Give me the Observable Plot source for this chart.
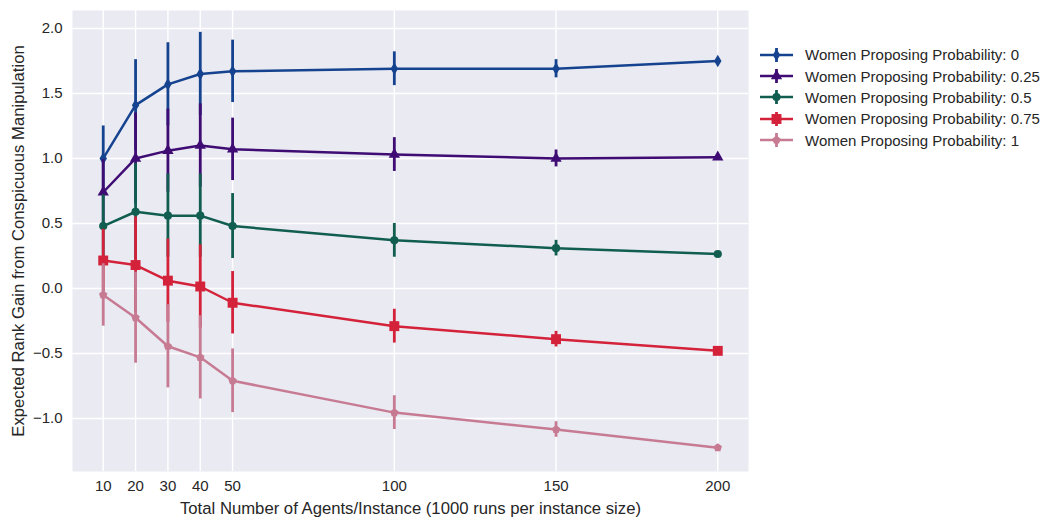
<!DOCTYPE html>
<html>
<head>
<meta charset="utf-8">
<script src="https://cdn.jsdelivr.net/npm/d3@7"></script>
<script src="https://cdn.jsdelivr.net/npm/@observablehq/plot@0.6"></script>
<style>
  html, body { margin: 0; padding: 0; background: #fff; }
  #wrap { position: relative; width: 1047px; height: 521px; font-family: "Liberation Sans", Arial, sans-serif; }
  #legend { position: absolute; left: 758px; top: 44px; color: #262626; font-size: 15px; }
  .row { display: flex; align-items: center; height: 21.4px; }
  .row svg { flex: none; }
  .row span { margin-left: 2px; white-space: nowrap; }
</style>
</head>
<body>
<div id="wrap"><div id="chart"></div><div id="legend"></div></div>
<script>
// ---- data ----
const sizes = [10, 20, 30, 40, 50, 100, 150, 200];
const probs = ["0", "0.25", "0.5", "0.75", "1"];
const mean0   = [1.00, 1.41, 1.57, 1.65, 1.67, 1.69, 1.69, 1.75];
const err0    = [0.25, 0.35, 0.32, 0.32, 0.24, 0.13, 0.07, 0.02];
const mean25  = [0.74, 1.00, 1.06, 1.10, 1.07, 1.03, 1.00, 1.01];
const err25   = [0.25, 0.35, 0.32, 0.32, 0.24, 0.13, 0.065, 0.02];
const mean50  = [0.48, 0.59, 0.56, 0.56, 0.48, 0.37, 0.31, 0.265];
const err50   = [0.24, 0.37, 0.32, 0.32, 0.25, 0.13, 0.06, 0.02];
const mean75  = [0.215, 0.18, 0.06, 0.015, -0.11, -0.29, -0.39, -0.48];
const err75   = [0.24, 0.37, 0.32, 0.32, 0.24, 0.13, 0.06, 0.02];
const mean100 = [-0.05, -0.225, -0.445, -0.53, -0.71, -0.955, -1.085, -1.225];
const err100  = [0.24, 0.35, 0.32, 0.32, 0.245, 0.13, 0.06, 0.02];
const yTicks = [-1.0, -0.5, 0.0, 0.5, 1.0, 1.5, 2.0];
const xLabel = "Total Number of Agents/Instance (1000 runs per instance size)";
const yLabel = "Expected Rank Gain from Conspicuous Manipulation";

const colors = ["#15438f", "#3f0c74", "#115e51", "#d3223a", "#c77b93"];

// custom marker shapes
const thinDiamond = { draw(ctx, size) { const r = Math.sqrt(size / Math.PI); const w = r * 0.6; ctx.moveTo(0, -r); ctx.lineTo(w, 0); ctx.lineTo(0, r); ctx.lineTo(-w, 0); ctx.closePath(); } };
const pentagon = { draw(ctx, size) { const r = Math.sqrt(size / Math.PI) * 1.1; for (let i = 0; i < 5; i++) { const a = -Math.PI / 2 + i * 2 * Math.PI / 5; const x = r * Math.cos(a), y = r * Math.sin(a); if (i === 0) ctx.moveTo(x, y); else ctx.lineTo(x, y); } ctx.closePath(); } };
const symbols = [thinDiamond, "triangle", "circle", "square", pentagon];
const radii = [6.2, 4.2, 4.1, 5.6, 4.0];

const seriesMeans = [mean0, mean25, mean50, mean75, mean100];
const seriesErrs = [err0, err25, err50, err75, err100];

const series = probs.map((p, i) => sizes.map((n, j) => ({
  n, prob: p, mean: seriesMeans[i][j], lo: seriesMeans[i][j] - seriesErrs[i][j], hi: seriesMeans[i][j] + seriesErrs[i][j]
})));

const font = '"Liberation Sans", Arial, sans-serif';
const fmt = d => (d < 0 ? "\u2212" : "") + Math.abs(d).toFixed(1);

const marks = [
  Plot.frame({ fill: "#eaeaf2", stroke: "none" }),
  Plot.gridX(sizes, { stroke: "#ffffff", strokeOpacity: 1, strokeWidth: 1.4 }),
  Plot.gridY(yTicks, { stroke: "#ffffff", strokeOpacity: 1, strokeWidth: 1.4 }),
  Plot.axisX(sizes, { tickSize: 0, tickPadding: 9, fontSize: 15, color: "#262626", label: null }),
  Plot.axisY(yTicks, { tickSize: 0, tickPadding: 10, fontSize: 15, tickFormat: fmt, color: "#262626", label: null }),
  Plot.text([xLabel], { frameAnchor: "bottom", text: d => d, dy: 37, lineAnchor: "middle", fontSize: 16.7, fill: "#262626" }),
  Plot.text([yLabel], { frameAnchor: "left", text: d => d, dx: -54, rotate: -90, lineAnchor: "middle", textAnchor: "middle", fontSize: 16.7, fill: "#262626" })
];
series.forEach((data, i) => {
  marks.push(Plot.ruleX(data, { x: "n", y1: "lo", y2: "hi", stroke: colors[i], strokeWidth: 2.8 }));
  marks.push(Plot.line(data, { x: "n", y: "mean", stroke: colors[i], strokeWidth: 2.5 }));
  marks.push(Plot.dot(data, { x: "n", y: "mean", fill: colors[i], stroke: "none", symbol: () => symbols[i], r: radii[i] }));
});

const chart = Plot.plot({
  width: 1047, height: 521,
  marginLeft: 72, marginRight: 299, marginTop: 10, marginBottom: 50,
  style: { background: "transparent", fontFamily: font, fontSize: "15px", color: "#262626", overflow: "visible" },
  x: { type: "linear", domain: [0.5, 209.5] },
  y: { domain: [-1.408, 2.138] },
  symbol: { type: "identity" },
  marks
});
document.getElementById("chart").appendChild(chart);

// legend
const legend = d3.select("#legend");
probs.forEach((p, i) => {
  const row = legend.append("div").attr("class", "row");
  const svg = row.append("svg").attr("width", 45).attr("height", 20);
  svg.append("line").attr("x1", 2).attr("x2", 35).attr("y1", 10).attr("y2", 10).attr("stroke", colors[i]).attr("stroke-width", 2.5);
  svg.append("line").attr("x1", 18.5).attr("x2", 18.5).attr("y1", 3).attr("y2", 17).attr("stroke", colors[i]).attr("stroke-width", 2.8);
  const sym = typeof symbols[i] === "string" ? { triangle: d3.symbolTriangle, circle: d3.symbolCircle, square: d3.symbolSquare }[symbols[i]] : symbols[i];
  svg.append("path").attr("transform", "translate(18.5,10)").attr("d", d3.symbol(sym, Math.PI * radii[i] * radii[i])()).attr("fill", colors[i]);
  row.append("span").text("Women Proposing Probability: " + p);
});
</script>
</body>
</html>
